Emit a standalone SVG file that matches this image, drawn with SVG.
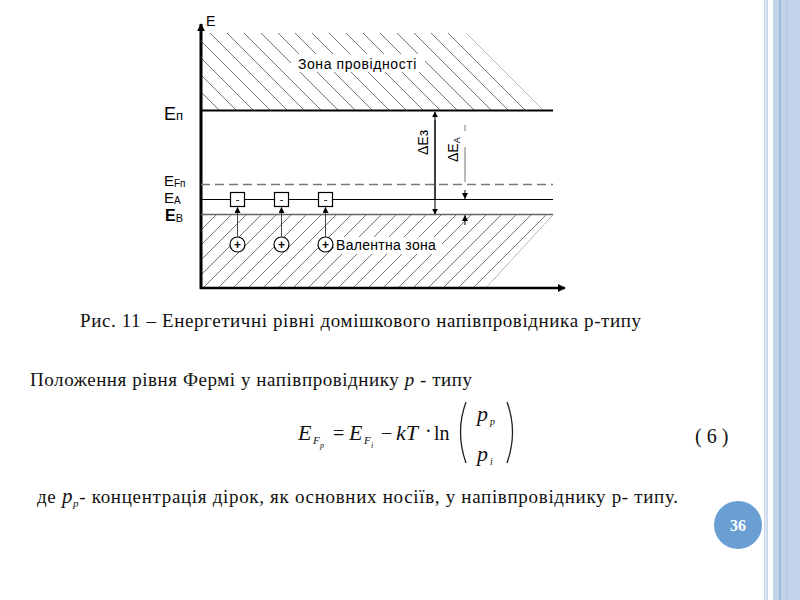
<svg xmlns="http://www.w3.org/2000/svg" width="800" height="600" viewBox="0 0 800 600">
<style>
.lbl{font-family:"Liberation Sans",Arial,sans-serif;fill:#000}
.ser{font-family:"Liberation Serif","Times New Roman",serif;fill:#111}
.hatch{stroke:#555;stroke-width:0.8;fill:none}
</style>
<defs>
<marker id="ah" viewBox="0 0 10 10" refX="9" refY="5" markerWidth="8" markerHeight="8" markerUnits="userSpaceOnUse" orient="auto"><path d="M0,0 L10,5 L0,10 z" fill="#000"/></marker>
<marker id="ahs" viewBox="0 0 10 10" refX="9" refY="5" markerWidth="6" markerHeight="6" markerUnits="userSpaceOnUse" orient="auto"><path d="M0,0 L10,5 L0,10 z" fill="#000"/></marker>
<clipPath id="cz"><polygon points="201,33 466,33 543,110 201,110"/></clipPath>
<clipPath id="vz"><polygon points="201,215 553,215 487,287 201,287"/></clipPath>
</defs>
<rect width="800" height="600" fill="#fff"/>
<!-- right decorative stripes -->
<rect x="764" y="0" width="4" height="600" fill="#c9d8ec"/>
<rect x="765" y="0" width="1.5" height="600" fill="#dfe8f4"/>
<rect x="773" y="0" width="27" height="600" fill="#c3d4ea"/>
<rect x="779" y="0" width="2" height="600" fill="#9fbadd"/>
<rect x="786" y="0" width="1.5" height="600" fill="#b3c8e4"/>

<g id="conduction-zone">
<g clip-path="url(#cz)">
<path class="hatch" d="M125,33 l77,77 M142,33 l77,77 M159,33 l77,77 M176,33 l77,77 M193,33 l77,77 M210,33 l77,77 M227,33 l77,77 M244,33 l77,77 M261,33 l77,77 M278,33 l77,77 M295,33 l77,77 M312,33 l77,77 M329,33 l77,77 M346,33 l77,77 M363,33 l77,77 M380,33 l77,77 M397,33 l77,77 M414,33 l77,77 M431,33 l77,77 M448,33 l77,77 M466,33 l77,77"/>
</g>
<rect x="291" y="54" width="134" height="18" fill="#fff"/>
<text class="lbl" x="357.5" y="69" font-size="14" text-anchor="middle" letter-spacing="0.6">Зона провідності</text>
</g>

<g id="valence-zone">
<g clip-path="url(#vz)">
<path class="hatch" d="M129,287 l72,-72 M144,287 l72,-72 M159,287 l72,-72 M174,287 l72,-72 M189,287 l72,-72 M204,287 l72,-72 M219,287 l72,-72 M234,287 l72,-72 M249,287 l72,-72 M264,287 l72,-72 M279,287 l72,-72 M294,287 l72,-72 M309,287 l72,-72 M324,287 l72,-72 M339,287 l72,-72 M354,287 l72,-72 M369,287 l72,-72 M384,287 l72,-72 M399,287 l72,-72 M414,287 l72,-72 M429,287 l72,-72 M444,287 l72,-72 M459,287 l72,-72 M474,287 l72,-72 M487,287 l66,-72"/>
</g>
<rect x="334" y="237" width="108" height="17" fill="#fff"/>
<text class="lbl" x="336" y="250" font-size="14" letter-spacing="0.3">Валентна зона</text>
</g>

<g id="axes">
<line x1="201" y1="289" x2="201" y2="24" stroke="#000" stroke-width="3" marker-end="url(#ah)"/>
<line x1="200" y1="288" x2="565" y2="288" stroke="#000" stroke-width="2.5" marker-end="url(#ah)"/>
<text class="lbl" x="206" y="26" font-size="14">E</text>
</g>

<g id="levels">
<line x1="201" y1="110.5" x2="553" y2="110.5" stroke="#000" stroke-width="2"/>
<line x1="201" y1="184.5" x2="553" y2="184.5" stroke="#777" stroke-width="1.3" stroke-dasharray="9,5"/>
<line x1="201" y1="199.5" x2="553" y2="199.5" stroke="#000" stroke-width="1"/>
<line x1="201" y1="214.5" x2="553" y2="214.5" stroke="#666" stroke-width="1.4"/>
<text class="lbl" x="164" y="120" font-size="18">E<tspan font-size="13">п</tspan></text>
<text class="lbl" x="164" y="186" font-size="15">E<tspan font-size="10" dy="1">Fп</tspan></text>
<text class="lbl" x="164" y="203" font-size="15">E<tspan font-size="10" dy="1">A</tspan></text>
<text class="lbl" x="165" y="221" font-size="16" font-weight="bold">E<tspan font-size="11" font-weight="normal" dy="1">B</tspan></text>
</g>

<g id="acceptors">
<rect x="230.5" y="192.5" width="14" height="14" fill="#fff" stroke="#000" stroke-width="1.2"/>
<text class="lbl" x="237.5" y="203" font-size="11" text-anchor="middle">-</text>
<rect x="274.5" y="192.5" width="14" height="14" fill="#fff" stroke="#000" stroke-width="1.2"/>
<text class="lbl" x="281.5" y="203" font-size="11" text-anchor="middle">-</text>
<rect x="318.5" y="192.5" width="14" height="14" fill="#fff" stroke="#000" stroke-width="1.2"/>
<text class="lbl" x="325.5" y="203" font-size="11" text-anchor="middle">-</text>
</g>

<g id="holes">
<circle cx="237.5" cy="244.5" r="7.5" fill="#fff" stroke="#000" stroke-width="1.2"/>
<text class="lbl" x="237.5" y="249" font-size="12" text-anchor="middle" font-weight="bold">+</text>
<circle cx="281.5" cy="244.5" r="7.5" fill="#fff" stroke="#000" stroke-width="1.2"/>
<text class="lbl" x="281.5" y="249" font-size="12" text-anchor="middle" font-weight="bold">+</text>
<circle cx="325.5" cy="244.5" r="7.5" fill="#fff" stroke="#000" stroke-width="1.2"/>
<text class="lbl" x="325.5" y="249" font-size="12" text-anchor="middle" font-weight="bold">+</text>
</g>

<g id="connectors">
<line x1="237.5" y1="237" x2="237.5" y2="207.5" stroke="#333" stroke-width="0.9" marker-end="url(#ahs)"/>
<line x1="281.5" y1="237" x2="281.5" y2="207.5" stroke="#333" stroke-width="0.9" marker-end="url(#ahs)"/>
<line x1="325.5" y1="237" x2="325.5" y2="207.5" stroke="#333" stroke-width="0.9" marker-end="url(#ahs)"/>
<line x1="435" y1="200" x2="435" y2="112" stroke="#000" stroke-width="1" marker-end="url(#ahs)"/>
<line x1="435" y1="120" x2="435" y2="214" stroke="#000" stroke-width="1" marker-end="url(#ahs)"/>
<line x1="465" y1="125" x2="465" y2="131" stroke="#777" stroke-width="1"/>
<line x1="465" y1="147" x2="465" y2="182" stroke="#777" stroke-width="1"/>
<line x1="465" y1="190" x2="465" y2="198.5" stroke="#000" stroke-width="1" marker-end="url(#ahs)"/>
<line x1="465" y1="225" x2="465" y2="215.5" stroke="#000" stroke-width="1" marker-end="url(#ahs)"/>
<text class="lbl" font-size="14" transform="translate(428,155) rotate(-90)">ΔEз</text>
<text class="lbl" font-size="14" transform="translate(458,162) rotate(-90)">ΔE<tspan font-size="9" dy="2">A</tspan></text>
</g>

<g id="texts">
<text class="ser" x="80" y="327" font-size="19" textLength="561" lengthAdjust="spacing">Рис. 11 – Енергетичні рівні домішкового напівпровідника р-типу</text>
<text class="ser" x="30" y="386" font-size="19" textLength="442" lengthAdjust="spacing">Положення рівня Фермі у напівпровіднику <tspan font-style="italic">p</tspan> - типу</text>
<text class="ser" x="37" y="503" font-size="19" textLength="641" lengthAdjust="spacing">де <tspan font-style="italic" font-size="21">p</tspan><tspan font-style="italic" font-size="11" dy="4">p</tspan><tspan dy="-4">- концентрація дірок, як основних носіїв, у напівпровіднику р- типу.</tspan></text>
</g>

<g id="formula" class="ser" font-style="italic" fill="#222">
<text x="298" y="440" font-size="22">E</text>
<text x="313" y="444" font-size="11">F</text>
<text x="320" y="448" font-size="8">p</text>
<text x="333" y="440" font-size="20" font-style="normal">=</text>
<text x="349" y="440" font-size="22">E</text>
<text x="364" y="444" font-size="11">F</text>
<text x="371" y="448" font-size="8">i</text>
<text x="381" y="440" font-size="20" font-style="normal">−</text>
<text x="396" y="440" font-size="22">kT</text>
<text x="425" y="438" font-size="20" font-style="normal">·</text>
<text x="434" y="440" font-size="20" font-style="normal">ln</text>
<path d="M466,402 Q455,432 466,463" stroke="#222" stroke-width="1.3" fill="none"/>
<path d="M507,402 Q518,432 507,463" stroke="#222" stroke-width="1.3" fill="none"/>
<text x="477" y="421" font-size="22">p</text>
<text x="490" y="425" font-size="10">p</text>
<text x="477" y="461" font-size="22">p</text>
<text x="490" y="465" font-size="10">i</text>
<text x="695" y="443" font-size="20" font-style="normal">( 6 )</text>
</g>

<g id="page-number">
<circle cx="738" cy="525" r="24" fill="#6a9fd4"/>
<text x="738" y="531" font-size="16" font-weight="bold" text-anchor="middle" font-family="Liberation Serif, serif" fill="#fff">36</text>
</g>
</svg>
